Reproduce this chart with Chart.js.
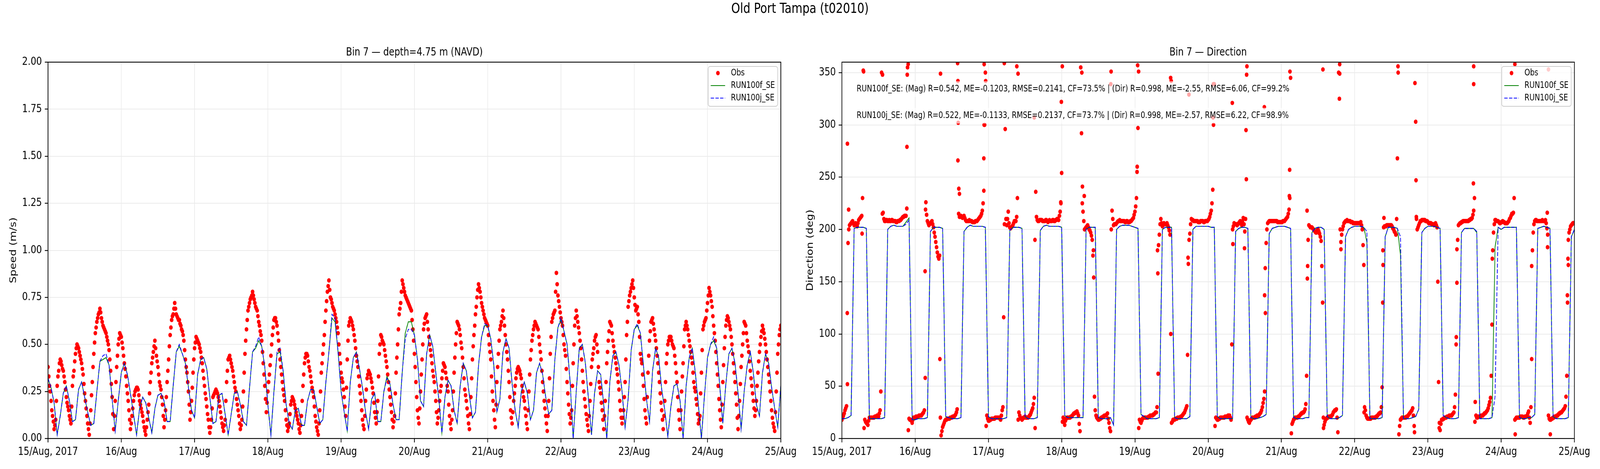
<!DOCTYPE html>
<html>
<head>
<meta charset="utf-8">
<title>Old Port Tampa (t02010)</title>
<script src="https://cdn.jsdelivr.net/npm/chart.js@4.4.1/dist/chart.umd.min.js"></script>
<style>
  html, body { margin: 0; padding: 0; background: #fff; overflow: hidden; width: 100%; height: 100%; }
  #viewport { position: fixed; left: 0; top: 0; width: 100vw; height: 100vh; overflow: hidden; background: #fff; }
  #page { position: absolute; left: 0; top: 0; width: 5000px; height: 1200px; transform-origin: 0 0; }
  #suptitle { position: absolute; left: 0; top: 0; width: 5000px; text-align: center;
    font-family: 'DejaVu Sans'; font-size: 35px; line-height: 42px; color: #000; }
  .panel { position: absolute; top: 0; height: 1200px; }
</style>
</head>
<body>
<div id="viewport">
<div id="page">
  <div class="panel" style="left:0;width:2600px"><canvas id="speedChart" width="2600" height="1200"></canvas></div>
  <div class="panel" style="left:2480px;width:2520px"><canvas id="dirChart" width="2520" height="1200"></canvas></div>
  <div id="suptitle">Old Port Tampa (t02010)</div>
</div>
</div>
<script>
// x axis = hours since 15/Aug/2017 00:00, one tick per day
const xTickLabels = ['15/Aug, 2017', '16/Aug', '17/Aug', '18/Aug', '19/Aug', '20/Aug',
  '21/Aug', '22/Aug', '23/Aug', '24/Aug', '25/Aug'];
const HOURS_PER_TICK = 24;
const MODEL_STEP_H = 1;    // model output hourly
const OBS_STEP_H = 0.5;    // obs read every 30 min (on the hour / half hour)
const OBS_Q_OFFSET_H = 0.25; // second set of obs readings, quarter past / quarter to

// observed speed (m/s), on the hour and half hour
const speedObs = [
  .38,.28,.20,.12,.05,.10,.28,.36,.42,.39,.36,.30,.22,.17,
  .12,.08,.28,.36,.45,.50,.48,.44,.40,.34,.24,.16,.08,.02,.15,.30,.45,.56,.62,.66,.69,.64,.60,.58,
  .56,.52,.47,.36,.22,.05,.20,.38,.50,.56,.54,.48,.40,.33,.24,.15,.05,.12,.20,.25,.27,.26,.20,.16,
  .12,.06,.02,.10,.18,.30,.40,.46,.52,.44,.38,.30,.26,.18,.06,.15,.30,.42,.55,.63,.66,.72,.66,.64,
  .63,.60,.57,.52,.42,.35,.25,.10,.20,.35,.48,.54,.52,.50,.46,.40,.32,.24,.17,.10,.03,.10,.22,.24,
  .26,.24,.20,.14,.08,.04,.10,.30,.42,.44,.40,.36,.30,.25,.18,.12,.05,.10,.25,.45,.58,.68,.72,.75,
  .78,.74,.70,.68,.62,.57,.52,.40,.28,.14,.25,.34,.44,.55,.63,.64,.60,.52,.42,.34,.26,
  .20,.10,.04,.08,.18,.22,.20,.16,.12,.08,
  .03,.12,.28,.40,.45,.44,.38,.33,.27,.22,
  .12,.06,.02,.15,.35,.45,.55,.68,.78,.84,
  .75,.72,.69,.66,.62,.56,.45,.35,.30,.22,
  .12,.42,.60,.64,.62,.58,.52,.44,.38,.28,
  .20,.10,.05,.20,.32,.36,.34,.30,.24,.14,
  .08,.20,.45,.55,.52,.50,.44,.38,.30,.22,
  .14,.06,.12,.35,.50,.66,.72,.84,.80,.76,
  .74,.72,.70,.68,.58,.45,.30,.15,.08,.25,
  .42,.58,.64,.66,.58,.50,.44,.36,.30,.20,
  .08,.15,.25,.32,.40,.38,.32,.25,.12,.05,
  .15,.35,.50,.62,.60,.55,.48,.38,.26,.20,
  .12,.05,.22,.42,.55,.66,.75,.82,.78,.72,
  .68,.64,.62,.60,.50,.42,.25,.15,.06,.30,
  .45,.58,.62,.68,.60,.50,.42,.30,.15,.08,
  .20,.28,.35,.38,.36,.32,.25,.20,.12,.05,
  .25,.42,.52,.58,.62,
  .60,.58,.50,.42,.30,.20,.12,.04,.20,.45,
  .62,.66,.68,.88,.76,.70,.64,.60,.50,.44,
  .30,.18,.08,.15,.40,.60,.68,.62,.56,.48,
  .36,.25,.17,.10,.04,.20,.38,.45,.52,.55,
  .46,.30,.24,.15,.05,.20,.40,.52,.62,.60,
  .52,.46,.40,.34,.26,.15,.08,.15,.30,.55,
  .70,.76,.80,.84,.75,.68,.70,.62,.45,.40,
  .28,.15,.08,.35,.52,.62,.64,.58,.52,.44,
  .35,.24,.15,.05,.20,.40,.50,.54,.54,.50,
  .48,.40,.30,.15,.05,.25,.40,.58,.62,.58,
  .52,.46,.40,.30,.25,.18,.08,.12,.35,.58,
  .62,.64,.72,.80,.76,.70,.60,.52,.40,.28,
  .15,.06,.30,.48,.60,.65,.62,.58,.50,.40,
  .30,.18,.05,.20,.38,.50,.62,.60,.52,.46,
  .36,.28,.20,.12,.20,.35,.46,.54,.60,.56,
  .50,.42,.34,.25,.15,.08,.04,.25,.45,.55,
  .60
];

// observed speed (m/s), quarter past / quarter to
const speedObsQ = [
  .33,.25,.15,.09,.07,.20,.33,.40,.41,.37,.33,.26,.19,.15,
  .10,.17,.33,.41,.48,.49,.46,.42,.37,.29,.20,.12,.05,.08,.23,.38,.51,.59,.64,.67,.67,.62,.59,.57,
  .54,.50,.42,.29,.13,.12,.30,.44,.53,.55,.51,.44,.37,.28,.20,.10,.08,.16,.23,.26,.27,.23,.18,.14,
  .09,.04,.06,.14,.24,.35,.43,.49,.48,.41,.34,.28,.22,.12,.10,.22,.36,.49,.59,.65,.69,.69,.65,.63,
  .61,.58,.55,.47,.38,.30,.18,.14,.27,.42,.51,.53,.51,.48,.43,.36,.28,.21,.13,.06,.06,.16,.23,.25,
  .25,.22,.17,.11,.06,.07,.20,.36,.43,.42,.38,.33,.27,.21,.15,.08,.07,.17,.35,.52,.63,.70,.74,.76,
  .76,.72,.69,.65,.60,.55,.46,.34,.21,.19,.30,.39,.50,.59,.64,.62,.56,.47,.38,.30,.23,
  .15,.07,.06,.13,.20,.21,.18,.14,.10,.05,
  .07,.20,.34,.43,.45,.41,.36,.30,.25,.17,
  .09,.04,.08,.25,.40,.50,.62,.73,.81,.79,
  .74,.70,.68,.64,.59,.50,.40,.32,.26,.17,
  .27,.52,.62,.63,.60,.55,.48,.41,.33,.24,
  .15,.07,.12,.26,.34,.35,.32,.27,.19,.11,
  .14,.33,.50,.54,.51,.47,.41,.34,.26,.18,
  .10,.09,.24,.43,.58,.69,.78,.82,.78,.75,
  .73,.71,.69,.63,.52,.38,.22,.11,.16,.34,
  .50,.61,.65,.62,.54,.47,.40,.33,.25,.14,
  .11,.20,.28,.36,.39,.35,.28,.18,.08,.10,
  .25,.43,.56,.61,.58,.51,.43,.32,.23,.16,
  .08,.13,.32,.49,.60,.70,.79,.80,.75,.70,
  .66,.63,.61,.55,.46,.33,.20,.10,.18,.38,
  .52,.60,.65,.64,.55,.46,.36,.22,.11,.14,
  .24,.32,.37,.37,.34,.28,.22,.16,.08,.15,
  .34,.47,.55,.60,.61,
  .59,.54,.46,.36,.25,.16,.08,.12,.32,.54,
  .64,.67,.78,.82,.73,.67,.62,.55,.47,.37,
  .24,.13,.11,.28,.50,.64,.65,.59,.52,.42,
  .30,.21,.13,.07,.12,.29,.42,.48,.54,.50,
  .38,.27,.19,.10,.12,.30,.46,.57,.61,.56,
  .49,.43,.37,.30,.20,.11,.11,.22,.42,.62,
  .73,.78,.82,.80,.71,.69,.66,.54,.42,.34,
  .21,.11,.22,.44,.57,.63,.61,.55,.48,.40,
  .30,.19,.10,.12,.30,.45,.52,.54,.52,.49,
  .44,.35,.22,.10,.15,.33,.49,.60,.60,.55,
  .49,.43,.35,.27,.21,.13,.10,.24,.47,.60,
  .63,.68,.76,.78,.73,.65,.56,.46,.34,.21,
  .10,.18,.39,.54,.63,.64,.60,.54,.45,.35,
  .24,.11,.12,.29,.44,.56,.61,.56,.49,.41,
  .32,.24,.16,.15,.28,.41,.50,.57,.58,.53,
  .46,.38,.30,.20,.11,.06,.14,.35,.50,.58
];

// modelled speed (m/s), hourly
const speedRun100f = [
  .32,.27,.19,.02,.12,.24,.28,.20,.09,.10,.26,.30,
  .22,.14,.07,.08,.25,.41,.42,.43,.39,.21,.04,.20,
  .35,.40,.34,.24,.13,.02,.16,.22,.19,.11,.03,.16,
  .23,.24,.20,.09,.09,.28,.46,.49,.45,.40,.27,.15,
  .11,.34,.42,.43,.37,.22,.08,.09,.23,.24,.13,.02,
  .13,.24,.25,.18,.09,.07,.27,.46,.48,.52,.49,.38,
  .18,.02,.25,.45,.46,.36,.18,.08,.05,.15,.16,.07,
  .07,.20,.26,.26,.17,.08,.10,.30,.46,.64,.62,.46,
  .25,.14,.04,.30,.43,.46,.37,.27,.14,.05,.21,.24,
  .09,.09,.25,.33,.29,.18,.10,.10,.35,.56,.62,.62,
  .55,.42,.20,.17,.45,.55,.49,.35,.21,.03,.22,.31,
  .28,.15,.08,.28,.40,.36,.23,.11,.14,.39,.54,.60,
  .60,.53,.39,.14,.21,.46,.53,.48,.29,.15,.06,.25,
  .30,.24,.10,.15,.35,.40,.34,.22,.13,.15,.42,.59,
  .63,.57,.50,.30,.00,.25,.48,.50,.40,.21,.02,.24,
  .36,.34,.18,.00,.30,.44,.46,.39,.25,.06,.21,.47,
  .58,.60,.56,.39,.21,.09,.36,.48,.43,.26,.15,.01,
  .17,.28,.29,.20,.00,.28,.43,.48,.35,.18,.00,.23,
  .43,.50,.52,.48,.28,.08,.29,.45,.48,.40,.24,.05,
  .25,.39,.46,.35,.18,.12,.35,.45,.40,.27,.16,.06,
  .28
];
const speedRun100j = [
  .32,.27,.19,.02,.12,.24,.28,.20,.09,.10,.26,.30,
  .22,.14,.07,.08,.25,.41,.44,.45,.39,.21,.04,.20,
  .35,.40,.34,.24,.13,.02,.16,.22,.19,.11,.03,.16,
  .23,.24,.20,.09,.09,.28,.46,.50,.45,.40,.27,.15,
  .11,.34,.42,.43,.37,.22,.08,.09,.23,.24,.13,.02,
  .13,.24,.25,.18,.09,.07,.27,.46,.49,.54,.49,.38,
  .18,.02,.25,.46,.48,.36,.18,.08,.05,.15,.16,.07,
  .07,.20,.26,.26,.17,.08,.10,.30,.46,.66,.64,.46,
  .25,.14,.04,.30,.43,.46,.37,.27,.14,.05,.21,.24,
  .09,.09,.25,.32,.29,.18,.10,.10,.35,.53,.58,.58,
  .55,.42,.20,.17,.45,.55,.49,.35,.21,.03,.22,.31,
  .28,.15,.08,.28,.40,.36,.23,.11,.14,.39,.54,.61,
  .60,.53,.39,.14,.21,.46,.53,.48,.29,.15,.06,.25,
  .30,.24,.10,.15,.35,.40,.34,.22,.13,.15,.42,.59,
  .64,.57,.50,.30,.00,.25,.48,.50,.40,.21,.02,.24,
  .36,.34,.18,.00,.30,.44,.46,.39,.25,.06,.21,.47,
  .58,.61,.56,.39,.21,.09,.36,.48,.43,.26,.15,.01,
  .17,.28,.29,.20,.00,.28,.43,.48,.35,.18,.00,.23,
  .43,.50,.54,.48,.28,.08,.29,.45,.48,.40,.24,.05,
  .25,.39,.46,.35,.18,.12,.35,.45,.40,.27,.16,.06,
  .28
];

// observed direction (deg), on the hour and half hour
const dirObs = [
  18,22,27,31,187,204,206,208,204,206,
  203,209,211,213,352,18,15,13,20,20,
  20,20,21,22,21,27,350,216,208,209,
  208,209,208,209,208,208,207,208,209,210,
  212,213,213,355,19,18,15,20,20,21,
  21,22,22,24,27,226,208,204,206,208,
  202,193,183,174,175,3,11,15,18,19,
  19,20,20,21,22,25,266,212,213,211,
  213,209,208,208,208,208,207,207,208,209,
  211,213,218,237,350,22,17,18,19,19,
  19,20,20,20,18,27,116,296,204,217,
  202,202,204,208,208,230,25,20,18,20,
  21,20,20,22,25,29,39,236,209,208,
  209,209,208,208,209,207,209,208,209,208,
  209,210,209,217,254,20,13,19,20,20,
  21,22,24,25,26,22,7,292,217,200,
  202,204,200,197,190,154,27,20,18,19,
  20,21,22,22,24,15,7,218,204,205,
  206,208,209,208,208,208,207,208,207,208,
  209,211,217,230,297,18,15,19,20,20,
  20,21,22,22,23,24,25,158,195,210,
  203,206,205,206,202,195,15,18,18,19,
  20,20,21,22,24,27,31,167,196,210,
  209,208,208,208,207,208,208,207,208,208,
  209,212,218,238,339,20,18,19,20,20,
  20,21,21,22,22,18,200,206,205,204,
  206,208,204,211,198,248,18,15,18,20,
  20,21,22,22,24,27,34,45,187,206,
  208,208,208,208,208,208,207,207,207,208,
  208,210,212,219,345,14,18,20,20,21,
  22,24,25,26,33,153,204,202,202,200,
  198,197,200,196,189,130,13,18,20,21,
  21,22,25,27,28,6,325,188,200,206,
  208,209,208,208,207,206,206,206,206,206,
  207,200,166,27,20,19,19,20,20,20,
  21,22,24,25,49,202,203,204,204,204,
  204,201,198,195,268,4,18,20,20,20,
  21,22,24,26,29,12,303,200,204,208,
  209,209,209,208,207,206,206,205,204,206,
  202,54,8,18,19,20,20,21,22,22,
  23,25,42,149,204,206,207,208,208,208,
  208,209,210,211,218,35,20,21,21,22,
  22,24,25,27,32,39,109,197,209,208,
  208,206,207,208,207,206,206,208,211,215,
  216,18,20,20,20,21,21,20,21,22,
  26,15,76,197,208,209,208,208,208,209,
  208,209,201,22,18,19,20,21,21,22,
  24,25,26,28,31,60,190,200,204,206,
  206
];

// observed direction (deg), quarter past / quarter to
const dirObsQ = [
  20,24,29,120,200,205,207,206,205,205,
  206,210,212,230,10,16,14,17,20,20,
  20,21,21,21,24,45,215,210,208,209,
  208,208,209,208,208,207,208,208,209,211,
  212,213,220,8,18,17,18,20,21,21,
  22,22,23,25,160,214,206,205,207,205,
  197,188,178,172,20,7,13,17,18,19,
  19,20,21,21,23,28,215,212,212,212,
  211,208,208,209,208,207,207,208,208,210,
  212,215,225,300,12,19,17,18,19,19,
  20,20,20,19,22,30,205,210,210,206,
  201,203,206,208,212,18,22,19,19,20,
  20,20,21,23,27,33,190,212,208,209,
  209,208,208,209,208,208,208,208,209,208,
  209,210,213,225,16,16,17,20,20,20,
  21,23,24,25,24,14,355,225,208,201,
  203,202,199,194,175,40,22,19,18,19,
  20,21,22,23,19,10,200,210,205,205,
  207,208,208,208,208,207,208,207,207,208,
  210,214,222,260,10,16,17,20,20,20,
  20,21,22,22,23,25,30,185,205,206,
  204,205,205,204,199,100,16,18,19,19,
  20,20,21,23,25,29,80,190,205,209,
  208,208,208,207,207,208,208,207,208,208,
  210,215,225,300,12,19,18,19,20,20,
  20,21,21,22,20,90,203,205,205,205,
  207,206,208,205,210,20,16,17,19,20,
  20,21,22,23,25,30,38,120,200,207,
  208,208,208,208,208,207,207,207,207,208,
  209,211,215,230,5,16,19,20,20,21,
  23,24,25,28,60,190,203,202,201,199,
  197,199,198,193,165,20,16,19,20,21,
  21,23,26,27,20,350,200,195,203,207,
  208,208,208,207,207,206,206,206,206,206,
  204,185,30,22,19,19,19,20,20,20,
  21,23,24,30,180,203,203,204,204,204,
  203,200,197,210,350,12,19,20,20,20,
  21,23,25,27,22,340,210,202,206,208,
  209,209,208,208,206,206,205,205,205,204,
  150,15,14,18,19,20,21,21,22,22,
  24,30,90,190,205,206,207,208,208,208,
  208,209,210,214,230,22,20,21,21,22,
  23,24,26,29,35,60,180,205,209,208,
  207,206,207,207,206,206,207,210,213,215,
  230,19,20,20,21,21,20,21,21,24,
  20,30,180,205,209,208,208,208,208,208,
  208,206,195,19,18,19,20,21,22,23,
  24,25,27,29,40,130,197,203,205,206
];

// scattered obs direction readings off the regular grid: [hour, deg]
const dirObsOutliers = [
  [1.8,282],[2.2,219],[1.8,52],[7.1,351],[6.6,196],[13.3,348],[21.7,358],[21.3,279],[21.4,348],
  [27.3,58],[27.4,219],[32.1,76],[32.3,349],[37.9,359],[38.0,342],[38.1,302],[38.3,239],[38.5,234],
  [46.6,358],[46.6,300],[46.5,268],[47.1,342],[53.2,359],[57.3,356],[57.7,349],[63.0,307],[63.3,10],
  [71.9,322],[71.7,226],[72.2,356],[78.6,350],[78.8,241],[79.4,232],[82.4,180],[88.2,351],[88.1,339],
  [96.9,357],[97.2,351],[96.7,255],[103.4,180],[103.6,62],[107.7,345],[107.9,342],[113.7,329],[113.4,173],
  [121.7,339],[121.6,307],[127.9,321],[128.1,186],[132.7,356],[132.6,348],[132.4,295],[131.9,182],
  [138.4,317],[138.5,137],[138.7,163],[146.8,351],[146.7,257],[146.6,232],[152.6,165],[152.4,218],
  [157.6,353],[157.8,10],[163.1,358],[163.1,349],[163.5,181],[171.1,25],[177.2,130],[177.3,166],
  [177.6,211],[182.2,356],[187.6,6],[188.1,247],[188.2,212],[195.7,10],[201.3,97],[201.5,181],
  [207.0,356],[207.0,339],[206.9,244],[207.4,16],[213.1,172],[220.5,358],[220.6,4],[226.0,165],
  [231.1,216],[231.2,183],[231.5,353],[232.1,4],[237.7,137],[237.9,172],[238.0,166]
];

// modelled direction (deg), hourly
const dirRun100f = [
  19,19,20,22,201,202,202,202,201,19,19,19,
  19,19,20,200,203,204,203,203,203,207,211,18,
  18,19,19,19,20,198,202,202,202,201,21,20,
  19,19,19,20,198,202,204,203,203,203,203,202,
  21,19,19,19,19,19,20,199,202,202,202,201,
  21,19,19,19,20,199,203,204,203,203,203,203,
  202,22,20,20,20,20,20,20,200,202,202,202,
  20,19,19,19,20,13,200,203,204,204,204,203,
  202,201,23,21,19,19,19,19,20,200,202,202,
  202,20,19,19,19,19,21,200,203,203,203,203,
  203,202,202,21,19,19,19,19,19,198,201,202,
  202,201,20,19,19,20,21,23,196,201,202,203,
  203,203,202,201,20,19,19,19,20,20,197,201,
  202,202,200,21,19,19,19,20,22,193,200,202,
  203,203,203,202,188,19,19,19,19,20,193,202,
  202,202,201,176,19,19,19,20,21,28,197,201,
  203,203,203,202,201,22,20,19,19,19,20,197,
  201,201,201,201,197,19,19,19,19,20,183,202,
  200,202,202,202,202,202,20,19,19,20,20,23,
  201,202,203,202,201,21,19,19,19,19,20,193,
  200
];
const dirRun100j = [
  19,19,20,22,201,202,202,202,201,19,19,19,
  19,19,20,200,203,204,203,203,203,205,209,18,
  18,19,19,19,20,198,202,202,202,201,21,20,
  19,19,19,20,198,202,204,203,203,203,203,202,
  21,19,19,19,19,19,20,199,202,202,202,201,
  21,19,19,19,20,199,203,204,203,203,203,203,
  202,22,20,20,20,20,20,20,200,202,202,202,
  20,19,19,19,20,13,200,203,204,204,204,203,
  202,201,23,21,19,19,19,19,20,200,202,202,
  202,20,19,19,19,19,21,200,203,203,203,203,
  203,202,202,21,19,19,19,19,19,198,201,202,
  202,201,20,19,19,20,21,23,196,201,202,203,
  203,203,202,201,20,19,19,19,20,20,197,201,
  202,202,200,21,19,19,19,20,22,193,200,202,
  203,203,203,202,198,19,19,19,19,20,193,202,
  202,202,201,193,19,19,19,20,21,28,197,201,
  203,203,203,202,201,22,20,19,19,19,20,197,
  201,201,201,201,198,19,19,19,19,20,40,202,
  200,202,202,202,202,202,20,19,19,20,20,23,
  201,202,203,202,201,21,19,19,19,19,20,193,
  200
];

const statsLines = [
  'RUN100f_SE: (Mag) R=0.542, ME=-0.1203, RMSE=0.2141, CF=73.5% | (Dir) R=0.998, ME=-2.55, RMSE=6.06, CF=99.2%',
  'RUN100j_SE: (Mag) R=0.522, ME=-0.1133, RMSE=0.2137, CF=73.7% | (Dir) R=0.998, ME=-2.57, RMSE=6.22, CF=98.9%'
];
const legendLabels = ['Obs', 'RUN100f_SE', 'RUN100j_SE'];

const FONT = 'DejaVu Sans';
const OBS_RED = '#ff0000', F_GREEN = '#008000', J_BLUE = '#0000ff';

// the figure is laid out at 5000x1200; stretch it onto whatever the window really is
(function fitPage() {
  const vw = document.documentElement.clientWidth || window.innerWidth || 5000;
  const vh = document.documentElement.clientHeight || window.innerHeight || 1200;
  document.getElementById('page').style.transform = 'scale(' + (vw / 5000) + ',' + (vh / 1200) + ')';
})();

function toPoints(vals, step, offset) {
  return vals.map((v, i) => ({ x: (offset || 0) + i * step, y: v }));
}

function makeDatasets(obs, obsQ, extra, runF, runJ) {
  const dotStyle = { showLine: false, pointRadius: 5.7, pointBackgroundColor: OBS_RED,
    pointBorderColor: OBS_RED, pointBorderWidth: 0, borderWidth: 0, clip: 0 };
  const obsPts = toPoints(obs, OBS_STEP_H).concat(toPoints(obsQ, OBS_STEP_H, OBS_Q_OFFSET_H));
  if (extra) extra.forEach(p => obsPts.push({ x: p[0], y: p[1] }));
  return [
    { label: 'RUN100j_SE', data: toPoints(runJ, MODEL_STEP_H), borderColor: J_BLUE, borderWidth: 2.2,
      borderDash: [10.3, 4.4], pointRadius: 0, tension: 0, order: 0, clip: 0 },
    { label: 'RUN100f_SE', data: toPoints(runF, MODEL_STEP_H), borderColor: F_GREEN, borderWidth: 2.2,
      pointRadius: 0, tension: 0, order: 1, clip: 0 },
    Object.assign({ label: 'Obs', data: obsPts, order: 2 }, dotStyle)
  ];
}

const tickFont = { family: FONT, size: 27.8 };
const gridStyle = { color: '#ebebeb', lineWidth: 2, drawTicks: true, tickLength: 10, tickColor: '#000', tickWidth: 2.2 };

function xAxis() {
  return {
    type: 'linear', min: 0, max: 240,
    ticks: { stepSize: HOURS_PER_TICK, autoSkip: false, maxRotation: 0, minRotation: 0, padding: 8,
      color: '#000', font: tickFont, callback: v => xTickLabels[Math.round(v / HOURS_PER_TICK)] },
    grid: gridStyle,
    border: { display: false },
    afterFit: s => { s.height = 78; s.paddingLeft = 0; s.paddingRight = 0; }
  };
}

function yAxis(min, max, step, width, fmt) {
  return {
    type: 'linear', min: min, max: max,
    ticks: { stepSize: step, includeBounds: false, padding: 9, color: '#000', font: tickFont, callback: fmt },
    grid: gridStyle,
    border: { display: false },
    afterFit: s => { s.width = width; s.paddingTop = 0; s.paddingBottom = 0; }
  };
}

// frame, titles, stats box and matplotlib-style legend
function decorPlugin(cfg) {
  return {
    id: 'decor',
    afterDatasetsDraw(chart) {
      const ctx = chart.ctx, a = chart.chartArea;
      ctx.save();
      ctx.strokeStyle = '#000';
      ctx.lineWidth = 2.2;
      ctx.strokeRect(a.left, a.top, a.right - a.left, a.bottom - a.top);

      ctx.fillStyle = '#000';
      ctx.font = '27.8px "' + FONT + '"';
      ctx.textAlign = 'center';
      ctx.textBaseline = 'alphabetic';
      ctx.fillText(cfg.title, (a.left + a.right) / 2, 142);

      ctx.save();
      ctx.translate(cfg.ylabelX, (a.top + a.bottom) / 2);
      ctx.rotate(-Math.PI / 2);
      ctx.textBaseline = 'middle';
      ctx.fillText(cfg.ylabel, 0, 0);
      ctx.restore();

      ctx.font = '22.2px "' + FONT + '"';
      ctx.textAlign = 'left';
      ctx.textBaseline = 'middle';
      if (cfg.notes) {
        cfg.notes.forEach((line, i) => {
          const tx = a.left + 46, ty = a.top + 69 + i * 68;
          const w = ctx.measureText(line).width;
          ctx.fillStyle = 'rgba(255,255,255,0.65)';
          ctx.fillRect(tx - 9, ty - 20, w + 18, 40);
          ctx.fillStyle = '#000';
          ctx.fillText(line, tx, ty);
        });
      }

      const lw = 217, lh = 102;
      const x0 = a.right - 10 - lw, y0 = a.top + 11;
      ctx.beginPath();
      ctx.roundRect(x0, y0, lw, lh, 6);
      ctx.fillStyle = 'rgba(255,255,255,0.8)';
      ctx.fill();
      ctx.strokeStyle = '#cccccc';
      ctx.lineWidth = 2;
      ctx.stroke();
      legendLabels.forEach((lab, i) => {
        const ry = y0 + 17 + i * 32;
        if (i === 0) {
          ctx.beginPath();
          ctx.arc(x0 + 30.5, ry, 5.7, 0, Math.PI * 2);
          ctx.fillStyle = OBS_RED;
          ctx.fill();
        } else {
          ctx.beginPath();
          ctx.setLineDash(i === 2 ? [10.3, 4.4] : []);
          ctx.strokeStyle = i === 2 ? J_BLUE : F_GREEN;
          ctx.lineWidth = 2.2;
          ctx.moveTo(x0 + 8, ry);
          ctx.lineTo(x0 + 53, ry);
          ctx.stroke();
          ctx.setLineDash([]);
        }
        ctx.fillStyle = '#000';
        ctx.fillText(lab, x0 + 71, ry);
      });
      ctx.restore();
    }
  };
}

function baseOptions(padRight, yScale) {
  return {
    responsive: false,
    animation: false,
    events: [],
    layout: { autoPadding: false, padding: { top: 159, right: padRight, left: 0, bottom: 0 } },
    plugins: { legend: { display: false }, tooltip: { enabled: false }, title: { display: false } },
    scales: { x: xAxis(), y: yScale }
  };
}

new Chart(document.getElementById('speedChart'), {
  type: 'line',
  data: { datasets: makeDatasets(speedObs, speedObsQ, null, speedRun100f, speedRun100j) },
  options: baseOptions(160, yAxis(0, 2, 0.25, 150, v => v.toFixed(2))),
  plugins: [decorPlugin({ title: 'Bin 7 \u2014 depth=4.75 m (NAVD)', ylabel: 'Speed (m/s)', ylabelX: 43 })]
});

new Chart(document.getElementById('dirChart'), {
  type: 'line',
  data: { datasets: makeDatasets(dirObs, dirObsQ, dirObsOutliers, dirRun100f, dirRun100j) },
  options: baseOptions(80, yAxis(0, 360, 50, 151, v => String(v))),
  plugins: [decorPlugin({ title: 'Bin 7 \u2014 Direction', ylabel: 'Direction (deg)', ylabelX: 53, notes: statsLines })]
});
</script>
</body>
</html>
